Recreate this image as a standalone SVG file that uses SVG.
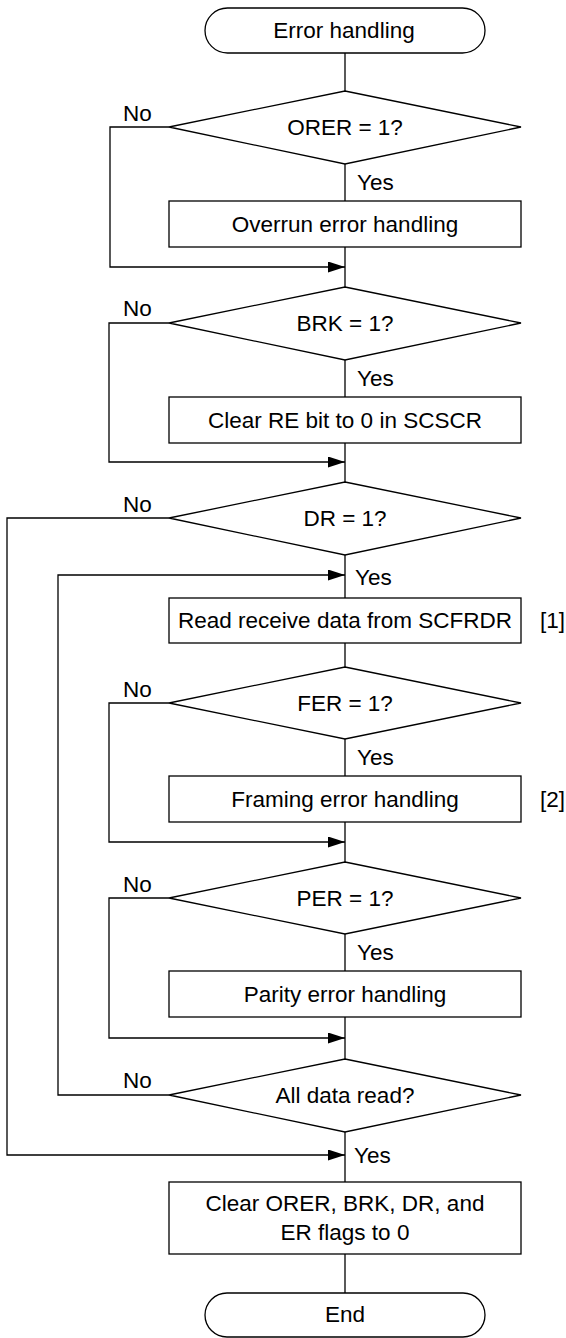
<svg xmlns="http://www.w3.org/2000/svg" width="566" height="1338" viewBox="0 0 566 1338">
<defs>
<style>
.shape{fill:#fff;stroke:#000;stroke-width:1.3}
.line{fill:none;stroke:#000;stroke-width:1.3}
.t{font-family:"Liberation Sans",Arial,sans-serif;font-size:22.5px;fill:#000}
.c{text-anchor:middle}
</style>
<marker id="arr" markerUnits="userSpaceOnUse" markerWidth="18" markerHeight="12" refX="17" refY="5.5" orient="auto">
<path d="M0,0 L17,5.5 L0,11 z" fill="#000"/>
</marker>
</defs>
<rect width="566" height="1338" fill="#fff"/>
<g id="connectors">
<path class="line" d="M345,53 V91"/>
<path class="line" d="M345,164 V201"/>
<path class="line" d="M169,127 H110 V267 H345" marker-end="url(#arr)"/>
<path class="line" d="M345,247 V287"/>
<path class="line" d="M345,360 V397"/>
<path class="line" d="M169,323 H109 V462 H345" marker-end="url(#arr)"/>
<path class="line" d="M345,443 V482"/>
<path class="line" d="M345,555 V598"/>
<path class="line" d="M169,518 H7 V1155 H345" marker-end="url(#arr)"/>
<path class="line" d="M169,1095 H58 V575 H345" marker-end="url(#arr)"/>
<path class="line" d="M345,643 V667"/>
<path class="line" d="M345,739 V776"/>
<path class="line" d="M169,703 H109 V842 H345" marker-end="url(#arr)"/>
<path class="line" d="M345,822 V862"/>
<path class="line" d="M345,934 V971"/>
<path class="line" d="M169,898 H109 V1038 H345" marker-end="url(#arr)"/>
<path class="line" d="M345,1017 V1059"/>
<path class="line" d="M345,1132 V1182"/>
<path class="line" d="M345,1254 V1293"/>
<text class="t" x="123" y="121">No</text>
<text class="t" x="357" y="190">Yes</text>
<text class="t" x="123" y="316">No</text>
<text class="t" x="357" y="386">Yes</text>
<text class="t" x="123" y="512">No</text>
<text class="t" x="355" y="585">Yes</text>
<text class="t" x="123" y="697">No</text>
<text class="t" x="357" y="765">Yes</text>
<text class="t" x="123" y="892">No</text>
<text class="t" x="357" y="960">Yes</text>
<text class="t" x="123" y="1088">No</text>
<text class="t" x="354" y="1163">Yes</text>
</g>
<g id="start">
<rect class="shape" x="205" y="8" width="280" height="45" rx="22.5"/>
<text class="t c" x="344" y="38">Error handling</text>
</g>
<g id="orer">
<polygon class="shape" points="345,91 521,127 345,164 169,127"/>
<text class="t c" x="345" y="135">ORER = 1?</text>
</g>
<g id="overrun">
<rect class="shape" x="169" y="201" width="352" height="46"/>
<text class="t c" x="345" y="232">Overrun error handling</text>
</g>
<g id="brk">
<polygon class="shape" points="345,287 521,323 345,360 169,323"/>
<text class="t c" x="345" y="331">BRK = 1?</text>
</g>
<g id="clearre">
<rect class="shape" x="169" y="397" width="352" height="46"/>
<text class="t c" x="345" y="428">Clear RE bit to 0 in SCSCR</text>
</g>
<g id="dr">
<polygon class="shape" points="345,482 521,518 345,555 169,518"/>
<text class="t c" x="345" y="526">DR = 1?</text>
</g>
<g id="read">
<rect class="shape" x="169" y="598" width="352" height="45"/>
<text class="t c" x="345" y="628">Read receive data from SCFRDR</text>
<text class="t" x="540" y="628">[1]</text>
</g>
<g id="fer">
<polygon class="shape" points="345,667 521,703 345,739 169,703"/>
<text class="t c" x="345" y="711">FER = 1?</text>
</g>
<g id="framing">
<rect class="shape" x="169" y="776" width="352" height="46"/>
<text class="t c" x="345" y="807">Framing error handling</text>
<text class="t" x="540" y="807">[2]</text>
</g>
<g id="per">
<polygon class="shape" points="345,862 521,898 345,934 169,898"/>
<text class="t c" x="345" y="906">PER = 1?</text>
</g>
<g id="parity">
<rect class="shape" x="169" y="971" width="352" height="46"/>
<text class="t c" x="345" y="1002">Parity error handling</text>
</g>
<g id="alldata">
<polygon class="shape" points="345,1059 521,1095 345,1132 169,1095"/>
<text class="t c" x="345" y="1103">All data read?</text>
</g>
<g id="clearflags">
<rect class="shape" x="169" y="1182" width="352" height="72"/>
<text class="t c" x="345" y="1211">Clear ORER, BRK, DR, and</text>
<text class="t c" x="345" y="1240">ER flags to 0</text>
</g>
<g id="end">
<rect class="shape" x="205" y="1293" width="280" height="44" rx="22"/>
<text class="t c" x="345" y="1322">End</text>
</g>
</svg>
